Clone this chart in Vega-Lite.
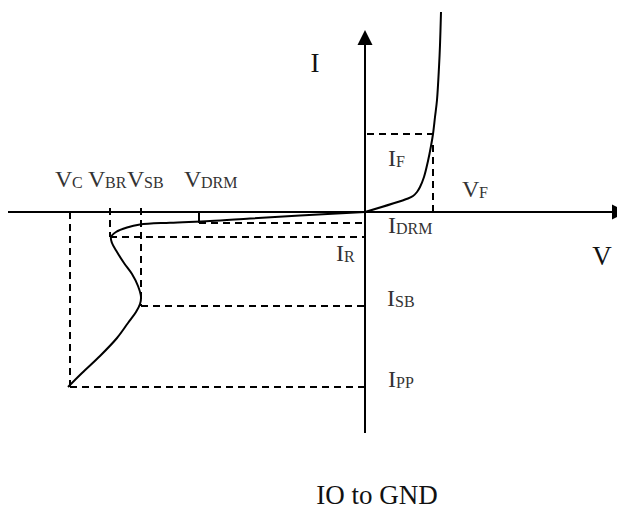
{
  "$schema": "https://vega.github.io/schema/vega-lite/v6.json",
  "width": 617,
  "height": 510,
  "autosize": "none",
  "padding": 0,
  "background": "white",
  "config": {"view": {"stroke": null}},
  "datasets": {
    "curves": [
      {"branch": "reverse", "o": 0, "v": 0, "i": 0},
      {"branch": "reverse", "o": 1, "v": -65, "i": -3.5},
      {"branch": "reverse", "o": 2, "v": -115, "i": -6.5},
      {"branch": "reverse", "o": 3, "v": -155, "i": -9},
      {"branch": "reverse", "o": 4, "v": -195, "i": -10.7},
      {"branch": "reverse", "o": 5, "v": -225, "i": -12.5},
      {"branch": "reverse", "o": 6, "v": -238, "i": -15.5},
      {"branch": "reverse", "o": 7, "v": -249, "i": -20},
      {"branch": "reverse", "o": 8, "v": -254, "i": -25},
      {"branch": "reverse", "o": 9, "v": -253, "i": -31},
      {"branch": "reverse", "o": 10, "v": -248, "i": -40},
      {"branch": "reverse", "o": 11, "v": -241, "i": -51},
      {"branch": "reverse", "o": 12, "v": -233, "i": -62},
      {"branch": "reverse", "o": 13, "v": -227, "i": -74},
      {"branch": "reverse", "o": 14, "v": -224, "i": -85},
      {"branch": "reverse", "o": 15, "v": -225, "i": -92},
      {"branch": "reverse", "o": 16, "v": -229, "i": -100},
      {"branch": "reverse", "o": 17, "v": -237, "i": -111},
      {"branch": "reverse", "o": 18, "v": -248, "i": -126},
      {"branch": "reverse", "o": 19, "v": -265, "i": -144},
      {"branch": "reverse", "o": 20, "v": -283, "i": -161},
      {"branch": "reverse", "o": 21, "v": -297, "i": -175},
      {"branch": "forward", "o": 0, "v": 0, "i": 0},
      {"branch": "forward", "o": 1, "v": 43, "i": 13.5},
      {"branch": "forward", "o": 2, "v": 48, "i": 16},
      {"branch": "forward", "o": 3, "v": 52, "i": 20},
      {"branch": "forward", "o": 4, "v": 55, "i": 25},
      {"branch": "forward", "o": 5, "v": 59, "i": 35},
      {"branch": "forward", "o": 6, "v": 63, "i": 51},
      {"branch": "forward", "o": 7, "v": 66, "i": 66},
      {"branch": "forward", "o": 8, "v": 68, "i": 78},
      {"branch": "forward", "o": 9, "v": 70, "i": 95},
      {"branch": "forward", "o": 10, "v": 72, "i": 112},
      {"branch": "forward", "o": 11, "v": 74, "i": 145},
      {"branch": "forward", "o": 12, "v": 75, "i": 167},
      {"branch": "forward", "o": 13, "v": 76, "i": 200}
    ],
    "segments": [
      {"name": "V axis", "style": "solid", "v": -357, "i": 0, "v2": 247, "i2": 0},
      {"name": "I axis", "style": "solid", "v": 0, "i": 167, "v2": 0, "i2": -221},
      {"name": "VC", "style": "dash", "v": -295, "i": 0, "v2": -295, "i2": -175},
      {"name": "VBR", "style": "dash", "v": -255, "i": 4, "v2": -255, "i2": -25},
      {"name": "VSB", "style": "dash", "v": -224, "i": 4, "v2": -224, "i2": -94},
      {"name": "VDRM", "style": "solid", "v": -166, "i": 0, "v2": -166, "i2": -11},
      {"name": "IDRM", "style": "dash", "v": -166, "i": -11, "v2": 0, "i2": -11},
      {"name": "IR", "style": "dash", "v": -255, "i": -25, "v2": 0, "i2": -25},
      {"name": "ISB", "style": "dash", "v": -224, "i": -94, "v2": 0, "i2": -94},
      {"name": "IPP", "style": "dash", "v": -295, "i": -175, "v2": 0, "i2": -175},
      {"name": "IF", "style": "dash", "v": 2, "i": 78, "v2": 68, "i2": 78},
      {"name": "VF", "style": "dash", "v": 68, "i": 67, "v2": 68, "i2": 0}
    ],
    "arrows": [
      {"dir": "up", "v": 0, "i": 174.5},
      {"dir": "right", "v": 254.5, "i": 0}
    ],
    "labels": [
      {"main": "V", "sub": "C", "v": -310, "i": 25},
      {"main": "V", "sub": "BR", "v": -277, "i": 25},
      {"main": "V", "sub": "SB", "v": -238, "i": 25},
      {"main": "V", "sub": "DRM", "v": -181, "i": 25},
      {"main": "V", "sub": "F", "v": 97, "i": 15},
      {"main": "I", "sub": "F", "v": 23, "i": 46},
      {"main": "I", "sub": "DRM", "v": 23, "i": -21},
      {"main": "I", "sub": "R", "v": -29, "i": -49},
      {"main": "I", "sub": "SB", "v": 22, "i": -94},
      {"main": "I", "sub": "PP", "v": 23, "i": -175}
    ],
    "titles": [
      {"text": "I", "v": -50, "i": 140, "align": "left"},
      {"text": "V", "v": 237, "i": -53, "align": "left"},
      {"text": "IO to GND", "v": 12, "i": -292, "align": "center"}
    ]
  },
  "encoding": {
    "x": {"field": "v", "type": "quantitative", "scale": {"domain": [-365, 252], "nice": false, "zero": false}, "axis": null},
    "y": {"field": "i", "type": "quantitative", "scale": {"domain": [-298, 212], "nice": false, "zero": false}, "axis": null}
  },
  "layer": [
    {
      "data": {"name": "segments"},
      "mark": {"type": "rule", "color": "black", "strokeWidth": 2},
      "encoding": {
        "x2": {"field": "v2"},
        "y2": {"field": "i2"},
        "strokeDash": {"field": "style", "type": "nominal", "scale": {"domain": ["dash", "solid"], "range": [[7, 5], [1, 0]]}, "legend": null}
      }
    },
    {
      "data": {"name": "curves"},
      "mark": {"type": "line", "color": "black", "strokeWidth": 2, "interpolate": "catmull-rom"},
      "encoding": {
        "detail": {"field": "branch", "type": "nominal"},
        "order": {"field": "o", "type": "quantitative"}
      }
    },
    {
      "data": {"name": "arrows"},
      "mark": {"type": "point", "filled": true, "color": "black", "opacity": 1, "size": 225},
      "encoding": {
        "shape": {"field": "dir", "type": "nominal", "scale": {"domain": ["up", "right"], "range": ["M-1,1L0,-1L1,1Z", "M-1,-1L1,0L-1,1Z"]}, "legend": null}
      }
    },
    {
      "data": {"name": "labels"},
      "mark": {"type": "text", "font": "Liberation Serif, Times New Roman, serif", "fontSize": 24, "align": "left", "baseline": "alphabetic", "color": "#333333"},
      "encoding": {"text": {"field": "main"}}
    },
    {
      "data": {"name": "labels"},
      "transform": [{"filter": "datum.main === 'V'"}],
      "mark": {"type": "text", "font": "Liberation Serif, Times New Roman, serif", "fontSize": 16, "align": "left", "baseline": "alphabetic", "color": "#333333", "dx": 17, "dy": 1},
      "encoding": {"text": {"field": "sub"}}
    },
    {
      "data": {"name": "labels"},
      "transform": [{"filter": "datum.main === 'I'"}],
      "mark": {"type": "text", "font": "Liberation Serif, Times New Roman, serif", "fontSize": 16, "align": "left", "baseline": "alphabetic", "color": "#333333", "dx": 8, "dy": 1},
      "encoding": {"text": {"field": "sub"}}
    },
    {
      "data": {"name": "titles"},
      "mark": {"type": "text", "font": "Liberation Serif, Times New Roman, serif", "fontSize": 27, "baseline": "alphabetic", "color": "#111111"},
      "encoding": {
        "text": {"field": "text"},
        "align": {"field": "align", "type": "nominal", "scale": null}
      }
    }
  ]
}
